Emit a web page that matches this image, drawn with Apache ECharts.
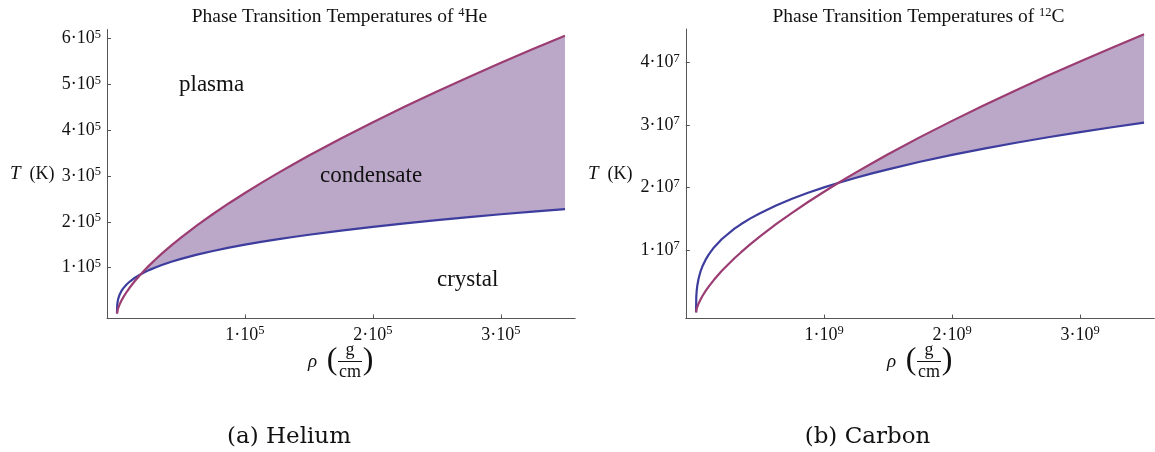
<!DOCTYPE html>
<html>
<head>
<meta charset="utf-8">
<script src="https://cdn.jsdelivr.net/npm/echarts@6/dist/echarts.min.js"></script>
<style>
  html, body { margin: 0; padding: 0; background: #fff; }
  #chart { width: 1155px; height: 452px; }
</style>
</head>
<body>
<div id="chart"></div>
<script>
// Helium-4: density (g/cm) and transition temperatures (K)
const heliumRho = [0, 200, 500, 1000, 2000, 3500, 5000, 7500, 10000, 14000, 18600, 21500, 25000, 30000, 35000, 42500, 50000, 62500, 75000, 87500, 100000, 112500, 125000, 137500, 150000, 175000, 200000, 225000, 250000, 275000, 300000, 325000, 350000];
const heliumCondenseT = [0, 4180, 7690, 12215, 19390, 28150, 35700, 46800, 56680, 70950, 85800, 94430, 104450, 117900, 130650, 148780, 165760, 192320, 217130, 240720, 263040, 284570, 305310, 325260, 344730, 382100, 417580, 451800, 484600, 516370, 547240, 577270, 606500];
const heliumCrystalT = [0, 18920, 25670, 32350, 40770, 49110, 55310, 63340, 69700, 77980, 85750, 89970, 94620, 100530, 105840, 112930, 119200, 128390, 136410, 143640, 150160, 156180, 161770, 166960, 171890, 180960, 189190, 196790, 203810, 210380, 216580, 222440, 228000];

// Carbon-12: density (g/cm) and transition temperatures (K)
const carbonRho = [0, 2e6, 5e6, 1e7, 2e7, 3.5e7, 5e7, 7.5e7, 1e8, 1.4e8, 2e8, 2.15e8, 3e8, 3.5e8, 4.25e8, 5e8, 6.25e8, 7.5e8, 8.75e8, 1e9, 1.11e9, 1.125e9, 1.25e9, 1.375e9, 1.5e9, 1.75e9, 2e9, 2.25e9, 2.5e9, 2.75e9, 3e9, 3.25e9, 3.5e9];
const carbonCondenseT = [0, 307000, 565000, 897000, 1425000, 2068000, 2623000, 3439000, 4164000, 5214000, 6613000, 6938000, 8663000, 9598000, 10931000, 12178000, 14130000, 15952000, 17686000, 19326000, 20725000, 20907000, 22432000, 23898000, 25328000, 28073000, 30680000, 33193000, 35603000, 37938000, 40206000, 42412000, 44560000];
const carbonCrystalT = [0, 2523000, 3423000, 4314000, 5436000, 6548000, 7375000, 8445000, 9293000, 10397000, 11710000, 11996000, 13403000, 14112000, 15057000, 15893000, 17118000, 18188000, 19152000, 20021000, 20733000, 20824000, 21569000, 22262000, 22919000, 24128000, 25226000, 26238000, 27175000, 28050000, 28877000, 29658000, 30400000];

// Tick positions
const heliumRhoTicks = [1e5, 2e5, 3e5];
const heliumTTicks = [1e5, 2e5, 3e5, 4e5, 5e5, 6e5];
const carbonRhoTicks = [1e9, 2e9, 3e9];
const carbonTTicks = [1e7, 2e7, 3e7, 4e7];

const SERIF = "'Liberation Serif', 'Times New Roman', serif";
const BLUE = '#3d3d9e';
const MAGENTA = '#9b3c72';
const FILL = '#bba7c8';
const INK = '#111';

function sciLabel(v) {
  const e = Math.floor(Math.log10(v) + 1e-9);
  const m = Math.round(v / Math.pow(10, e));
  return '{b|' + m + '·10}{s|' + e + '}';
}
const tickRich = {
  b: { fontFamily: SERIF, fontSize: 18, color: INK },
  s: { fontFamily: SERIF, fontSize: 12.5, color: INK, padding: [0, 0, 8, 0] }
};

function pairs(xs, ys) { return xs.map((x, i) => [x, ys[i]]); }

function axisFor(idx, min, max, ticks) {
  return {
    gridIndex: idx, type: 'value', min: min, max: max,
    axisLine: { onZero: false, lineStyle: { color: '#555', width: 1 } },
    axisTick: { inside: true, length: 4, customValues: ticks, lineStyle: { color: '#555' } },
    axisLabel: { customValues: ticks, margin: 6, formatter: sciLabel, rich: tickRich },
    splitLine: { show: false }
  };
}

// shaded condensate region: between the curves wherever the condensate temperature is above the crystal one
function bandSeries(idx, xs, hi, lo) {
  return {
    type: 'custom', xAxisIndex: idx, yAxisIndex: idx, silent: true, z: 1,
    clip: true,
    data: [[xs[0], lo[0]]],
    renderItem: function (params, api) {
      const top = [], bottom = [];
      for (let i = 0; i < xs.length; i++) {
        if (hi[i] >= lo[i] && xs[i] > 0) {
          top.push(api.coord([xs[i], hi[i]]));
          bottom.push(api.coord([xs[i], lo[i]]));
        }
      }
      const points = top.concat(bottom.reverse());
      return { type: 'polygon', shape: { points: points }, style: { fill: FILL, stroke: null } };
    }
  };
}

function seriesFor(idx, xs, hi, lo) {
  return [
    bandSeries(idx, xs, hi, lo),
    { type: 'line', xAxisIndex: idx, yAxisIndex: idx, data: pairs(xs, lo),
      symbol: 'none', lineStyle: { color: BLUE, width: 2.2 }, z: 3 },
    { type: 'line', xAxisIndex: idx, yAxisIndex: idx, data: pairs(xs, hi),
      symbol: 'none', lineStyle: { color: MAGENTA, width: 2.2 }, z: 4 }
  ];
}

function txt(x, y, text, size, extra) {
  return {
    type: 'text', x: x, y: y, silent: true, z: 100,
    style: Object.assign({ text: text, font: size + 'px ' + SERIF, fill: INK,
      textAlign: 'left', textVerticalAlign: 'middle' }, (extra || {}))
  };
}
function rhoLabel(cx) {
  // ρ (g / cm) with a stacked fraction
  return [
    txt(cx - 42, 362, 'ρ', 19, { font: 'italic 19px ' + SERIF }),
    txt(cx - 18, 361, '(', 32, { font: '32px ' + SERIF, textAlign: 'center' }),
    txt(cx + 18, 361, ')', 32, { font: '32px ' + SERIF, textAlign: 'center' }),
    txt(cx, 350, 'g', 18, { textAlign: 'center' }),
    txt(cx, 372, 'cm', 18, { textAlign: 'center' }),
    { type: 'line', silent: true, z: 100, shape: { x1: cx - 12, y1: 361.5, x2: cx + 12, y2: 361.5 },
      style: { stroke: INK, lineWidth: 1 } }
  ];
}
function titleText(cx, main, sup, tail) {
  return {
    type: 'text', x: cx, y: 17, silent: true, z: 100,
    style: {
      text: '{m|' + main + '}{s|' + sup + '}{m|' + tail + '}',
      textAlign: 'center', textVerticalAlign: 'middle',
      rich: {
        m: { fontFamily: SERIF, fontSize: 19.5, fill: INK },
        s: { fontFamily: SERIF, fontSize: 12.5, fill: INK, padding: [0, 0, 9, 0] }
      }
    }
  };
}
function tLabel(x) {
  return {
    type: 'text', x: x, y: 174, silent: true, z: 100,
    style: {
      text: '{i|T}{n|  (K)}', textAlign: 'left', textVerticalAlign: 'middle',
      rich: {
        i: { fontFamily: SERIF, fontSize: 19, fontStyle: 'italic', fill: INK },
        n: { fontFamily: SERIF, fontSize: 18, fill: INK }
      }
    }
  };
}

const chart = echarts.init(document.getElementById('chart'), null, { renderer: 'canvas' });
chart.setOption({
  animation: false,
  backgroundColor: '#fff',
  grid: [
    { left: 107, top: 29.5, width: 468.2, height: 289, containLabel: false },
    { left: 685.8, top: 29, width: 468.5, height: 289.6, containLabel: false }
  ],
  xAxis: [
    axisFor(0, -7800, 358000, heliumRhoTicks),
    axisFor(1, -8e7, 3.58e9, carbonRhoTicks)
  ],
  yAxis: [
    axisFor(0, -11000, 620000, heliumTTicks),
    axisFor(1, -1e6, 4.54e7, carbonTTicks)
  ],
  series: [].concat(
    seriesFor(0, heliumRho, heliumCondenseT, heliumCrystalT),
    seriesFor(1, carbonRho, carbonCondenseT, carbonCrystalT)
  ),
  graphic: [].concat(
    [
      titleText(339.5, 'Phase Transition Temperatures of ', '4', 'He'),
      titleText(918.5, 'Phase Transition Temperatures of ', '12', 'C'),
      tLabel(10),
      tLabel(588),
      txt(179, 85, 'plasma', 23),
      txt(320, 176, 'condensate', 23),
      txt(437, 280, 'crystal', 23),
      txt(289, 437, '(a) Helium', 23, { font: "23px 'DejaVu Serif', serif", textAlign: 'center' }),
      txt(867.5, 437, '(b) Carbon', 23, { font: "23px 'DejaVu Serif', serif", textAlign: 'center' })
    ],
    rhoLabel(350),
    rhoLabel(929)
  )
});
</script>
</body>
</html>
